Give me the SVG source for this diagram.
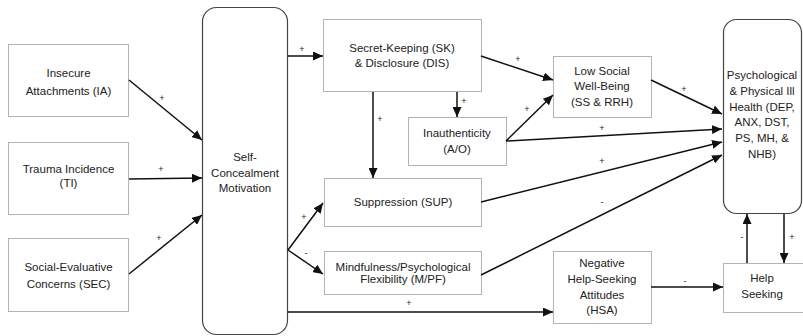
<svg xmlns="http://www.w3.org/2000/svg" width="803" height="336" viewBox="0 0 803 336">
<style>
.box{fill:#fff;stroke:#b3b3b3;stroke-width:1}
.rbox{fill:#fff;stroke:#444;stroke-width:1.2}
.t{font-family:"Liberation Sans",Arial,sans-serif;font-size:11.5px;fill:#222;text-anchor:middle}
.l{font-family:"Liberation Sans",Arial,sans-serif;font-size:9px;fill:#222;text-anchor:middle}
.c{fill:none;stroke:#111;stroke-width:1.5}
</style>
<defs>
<marker id="ah" markerUnits="userSpaceOnUse" markerWidth="11" markerHeight="9" refX="10" refY="4.5" orient="auto">
<path d="M0,0 L10,4.5 L0,9 Z" fill="#111"/>
</marker>
</defs>
<rect width="803" height="336" fill="#fff"/>
<g id="IA"><rect class="box" x="8.5" y="44.5" width="120" height="72"/><text class="t" x="68.5" y="77">Insecure</text><text class="t" x="68.5" y="95">Attachments (IA)</text></g>
<g id="TI"><rect class="box" x="8.5" y="142.5" width="120" height="72"/><text class="t" x="68.5" y="173">Trauma Incidence</text><text class="t" x="68.5" y="187">(TI)</text></g>
<g id="SEC"><rect class="box" x="8.5" y="238.5" width="120" height="73"/><text class="t" x="68.5" y="271">Social-Evaluative</text><text class="t" x="68.5" y="288">Concerns (SEC)</text></g>
<g id="SCM"><rect class="rbox" x="202.5" y="7.5" width="85" height="327" rx="14"/><text class="t" x="245" y="161">Self-</text><text class="t" x="245" y="177">Concealment</text><text class="t" x="245" y="192">Motivation</text></g>
<g id="SK"><rect class="box" x="323.5" y="19.5" width="158" height="72"/><text class="t" x="402" y="52">Secret-Keeping (SK)</text><text class="t" x="402" y="67">&amp; Disclosure (DIS)</text></g>
<g id="AO"><rect class="box" x="408.5" y="117.5" width="98" height="48"/><text class="t" x="457" y="137">Inauthenticity</text><text class="t" x="457" y="153">(A/O)</text></g>
<g id="SUP"><rect class="box" x="324.5" y="178.5" width="157" height="48"/><text class="t" x="403" y="206">Suppression (SUP)</text></g>
<g id="MPF"><rect class="box" x="324.5" y="251.5" width="157" height="43"/><text class="t" x="403" y="271">Mindfulness/Psychological</text><text class="t" x="403" y="283">Flexibility (M/PF)</text></g>
<g id="LSW"><rect class="box" x="553.5" y="56.5" width="98" height="61"/><text class="t" x="602" y="75">Low Social</text><text class="t" x="602" y="90">Well-Being</text><text class="t" x="602" y="106">(SS &amp; RRH)</text></g>
<g id="HSA"><rect class="box" x="553.5" y="251.5" width="98" height="72"/><text class="t" x="602" y="267">Negative</text><text class="t" x="602" y="283">Help-Seeking</text><text class="t" x="602" y="299">Attitudes</text><text class="t" x="602" y="314">(HSA)</text></g>
<g id="HEALTH"><rect class="rbox" x="723.5" y="19.5" width="78" height="194" rx="13"/><text class="t" x="762" y="79">Psychological</text><text class="t" x="762" y="95">&amp; Physical Ill</text><text class="t" x="762" y="111">Health (DEP,</text><text class="t" x="762" y="126">ANX, DST,</text><text class="t" x="762" y="142">PS, MH, &amp;</text><text class="t" x="762" y="158">NHB)</text></g>
<g id="HS"><rect class="box" x="723.5" y="263.5" width="80" height="49"/><text class="t" x="762" y="282">Help</text><text class="t" x="762" y="298">Seeking</text></g>
<g id="connectors">
<line class="c" x1="129" y1="80" x2="202" y2="140" marker-end="url(#ah)"/>
<line class="c" x1="129" y1="179" x2="202" y2="178" marker-end="url(#ah)"/>
<line class="c" x1="129" y1="274" x2="202" y2="215" marker-end="url(#ah)"/>
<line class="c" x1="288" y1="56" x2="323" y2="56" marker-end="url(#ah)"/>
<line class="c" x1="288" y1="250" x2="323" y2="203" marker-end="url(#ah)"/>
<line class="c" x1="288" y1="250" x2="323" y2="274" marker-end="url(#ah)"/>
<line class="c" x1="288" y1="312" x2="553" y2="312" marker-end="url(#ah)"/>
<line class="c" x1="373" y1="92" x2="373" y2="178" marker-end="url(#ah)"/>
<line class="c" x1="457" y1="92" x2="457" y2="117" marker-end="url(#ah)"/>
<line class="c" x1="481" y1="56" x2="553" y2="80" marker-end="url(#ah)"/>
<line class="c" x1="506" y1="141" x2="553" y2="95" marker-end="url(#ah)"/>
<line class="c" x1="651" y1="80" x2="722" y2="114" marker-end="url(#ah)"/>
<line class="c" x1="506" y1="141" x2="722" y2="129" marker-end="url(#ah)"/>
<line class="c" x1="481" y1="202" x2="722" y2="142" marker-end="url(#ah)"/>
<line class="c" x1="481" y1="275" x2="722" y2="155" marker-end="url(#ah)"/>
<line class="c" x1="651" y1="287" x2="723" y2="287" marker-end="url(#ah)"/>
<line class="c" x1="747" y1="263" x2="747" y2="214" marker-end="url(#ah)"/>
<line class="c" x1="784" y1="214" x2="784" y2="263" marker-end="url(#ah)"/>
<text class="l" x="162" y="101">+</text>
<text class="l" x="161" y="172">+</text>
<text class="l" x="159" y="241">+</text>
<text class="l" x="302" y="52">+</text>
<text class="l" x="304" y="220">+</text>
<text class="l" x="306" y="256">-</text>
<text class="l" x="409" y="306">+</text>
<text class="l" x="380" y="122">+</text>
<text class="l" x="464" y="104">+</text>
<text class="l" x="518" y="62">+</text>
<text class="l" x="527" y="112">+</text>
<text class="l" x="684" y="92">+</text>
<text class="l" x="602" y="131">+</text>
<text class="l" x="602" y="164">+</text>
<text class="l" x="602" y="205">-</text>
<text class="l" x="685" y="284">-</text>
<text class="l" x="742" y="240">-</text>
<text class="l" x="792" y="240">+</text>
</g>
</svg>
